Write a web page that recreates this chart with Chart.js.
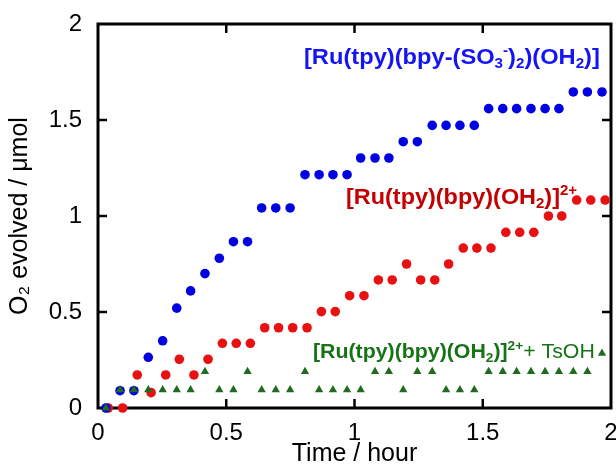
<!DOCTYPE html>
<html><head><meta charset="utf-8">
<script src="https://cdn.jsdelivr.net/npm/chart.js@4.4.1/dist/chart.umd.min.js"></script>
<style>html,body{margin:0;padding:0;background:#fff;}</style>
</head><body>
<canvas id="c" width="616" height="471"></canvas>
<script>
// ---- data (hours, µmol) ----
const timesBlue = [0.031,0.086,0.140,0.196,0.252,0.307,0.361,0.417,0.473,0.528,0.583,0.638,0.693,0.749,0.807,0.862,0.916,0.971,1.024,1.080,1.134,1.190,1.245,1.303,1.357,1.411,1.467,1.523,1.578,1.632,1.688,1.743,1.797,1.853,1.908,1.965];
const o2Blue = [0,0.09,0.09,0.264,0.35,0.52,0.61,0.70,0.78,0.866,0.866,1.042,1.042,1.042,1.215,1.215,1.215,1.215,1.302,1.302,1.302,1.387,1.387,1.472,1.472,1.472,1.472,1.559,1.559,1.559,1.559,1.559,1.559,1.646,1.646,1.646];

const timesRed = [0.040,0.096,0.153,0.207,0.264,0.317,0.374,0.429,0.485,0.539,0.594,0.650,0.704,0.759,0.815,0.871,0.925,0.981,1.037,1.093,1.147,1.203,1.258,1.313,1.367,1.424,1.477,1.532,1.590,1.644,1.699,1.756,1.808,1.866,1.921,1.977];
const o2Red = [0,0,0.172,0.08,0.172,0.254,0.172,0.254,0.337,0.337,0.337,0.418,0.418,0.418,0.418,0.502,0.502,0.585,0.585,0.667,0.667,0.75,0.667,0.667,0.75,0.833,0.833,0.833,0.915,0.915,0.915,1.0,1.0,1.083,1.083,1.083];

const timesGreen = [0.031,0.086,0.140,0.196,0.252,0.307,0.361,0.417,0.473,0.528,0.583,0.638,0.693,0.749,0.807,0.862,0.916,0.971,1.024,1.080,1.134,1.190,1.245,1.303,1.357,1.411,1.467,1.523,1.578,1.632,1.688,1.743,1.797,1.853,1.908,1.965];
const o2Green = [0,0.095,0.095,0.095,0.095,0.095,0.095,0.19,0.095,0.095,0.19,0.095,0.095,0.095,0.19,0.095,0.095,0.095,0.095,0.19,0.19,0.095,0.19,0.19,0.095,0.095,0.095,0.19,0.19,0.19,0.19,0.19,0.19,0.19,0.19,0.285];

const xTicks = [0,0.5,1,1.5,2];
const yTicks = [0,0.5,1,1.5,2];
const innerTicks = [0.5,1,1.5];
const xTitle = "Time / hour";
const yTitle = "O\u2082 evolved / \u03BCmol";

// label text segments: [text, kind(n/sub/sup), weight]
const labelBlue = [["[Ru(tpy)(bpy-(SO","n"],["3","sub"],["-","sup"],[")","n"],["2","sub"],[")(OH","n"],["2","sub"],[")]","n"]];
const labelRed = [["[Ru(tpy)(bpy)(OH","n"],["2","sub"],[")]","n"],["2+","sup"]];
const labelGreen = [["[Ru(tpy)(bpy)(OH","n"],["2","sub"],[")]","n"],["2+","sup"],["+ TsOH","n","normal"]];

const FONT = "'Liberation Sans', Arial, sans-serif";
const TICK_SIZE = 24;
const TITLE_SIZE = 25;

const annotations = [
  {segs: labelBlue, color: '#1414f5', x: 0.803, y: 1.792, size: 22, sx: 1.076},
  {segs: labelRed, color: '#c40000', x: 0.967, y: 1.0625, size: 22, sx: 1.065},
  {segs: labelGreen, color: '#167316', x: 0.838, y: 0.26, size: 20.5, sx: 1.04}
];

function pts(xs, ys){ return xs.map((x,i)=>({x:x, y:ys[i]})); }

const framePlugin = {
  id: 'frame',
  beforeDatasetsDraw(chart){
    const {ctx, chartArea:a, scales:{x, y}} = chart;
    ctx.save();
    ctx.strokeStyle = '#000';
    ctx.lineWidth = 3;
    ctx.strokeRect(a.left, a.top, a.right - a.left, a.bottom - a.top);
    const L = 9;
    ctx.lineWidth = 2.5;
    ctx.beginPath();
    innerTicks.forEach(v=>{
      const px = x.getPixelForValue(v);
      ctx.moveTo(px, a.bottom); ctx.lineTo(px, a.bottom - L);
      ctx.moveTo(px, a.top); ctx.lineTo(px, a.top + L);
      const py = y.getPixelForValue(v);
      ctx.moveTo(a.left, py); ctx.lineTo(a.left + L, py);
      ctx.moveTo(a.right, py); ctx.lineTo(a.right - L, py);
    });
    ctx.stroke();
    ctx.restore();
  }
};

const annotPlugin = {
  id: 'annot',
  afterDatasetsDraw(chart){
    const {ctx, scales:{x, y}} = chart;
    annotations.forEach(a=>{
      ctx.save();
      ctx.textAlign = 'left';
      ctx.textBaseline = 'alphabetic';
      ctx.translate(x.getPixelForValue(a.x), y.getPixelForValue(a.y));
      ctx.scale(a.sx, 1);
      ctx.fillStyle = a.color;
      let px = 0;
      a.segs.forEach(s=>{
        const kind = s[1], w = s[2] || 'bold';
        const size = kind === 'n' ? a.size : a.size * 0.64;
        const dy = kind === 'sub' ? a.size * 0.2 : (kind === 'sup' ? -a.size * 0.4 : 0);
        ctx.font = w + ' ' + size + 'px ' + FONT;
        ctx.fillText(s[0], px, dy);
        px += ctx.measureText(s[0]).width;
      });
      ctx.restore();
    });
  }
};

new Chart(document.getElementById('c'), {
  type: 'scatter',
  data: {
    datasets: [
      {label: 'green', data: pts(timesGreen, o2Green), pointStyle: 'triangle', pointRadius: 4.8, pointBackgroundColor: '#1f6b1f', pointBorderWidth: 0, order: 0, clip: false},
      {label: 'blue', data: pts(timesBlue, o2Blue), pointStyle: 'circle', pointRadius: 4.8, pointBackgroundColor: '#0000e0', pointBorderWidth: 0, order: 1, clip: false},
      {label: 'red', data: pts(timesRed, o2Red), pointStyle: 'circle', pointRadius: 4.8, pointBackgroundColor: '#e81010', pointBorderWidth: 0, order: 2, clip: false}
    ]
  },
  options: {
    responsive: false,
    animation: false,
    devicePixelRatio: 1,
    layout: {padding: {left: 0, right: 5, top: 24, bottom: 0}},
    plugins: {legend: {display: false}, tooltip: {enabled: false}},
    scales: {
      x: {
        type: 'linear', position: 'bottom', min: 0, max: 2,
        afterBuildTicks: s => { s.ticks = xTicks.map(v => ({value: v})); },
        ticks: {color: '#000', font: {family: FONT, size: TICK_SIZE}, padding: 3, maxRotation: 0, autoSkip: false, callback: v => String(v)},
        grid: {display: false}, border: {display: false},
        title: {display: true, text: xTitle, color: '#000', font: {family: FONT, size: TITLE_SIZE}, padding: {top: 0, bottom: 2}},
        afterFit: s => { s.height = 63; s.paddingLeft = 0; s.paddingRight = 0; }
      },
      y: {
        type: 'linear', position: 'left', min: 0, max: 2,
        afterBuildTicks: s => { s.ticks = yTicks.map(v => ({value: v})); },
        ticks: {color: '#000', font: {family: FONT, size: TICK_SIZE}, padding: 8, autoSkip: false, callback: v => String(v)},
        grid: {display: false}, border: {display: false},
        title: {display: true, text: yTitle, color: '#000', font: {family: FONT, size: TITLE_SIZE}, padding: {top: 5, bottom: 0}},
        afterFit: s => { s.width = 98; s.paddingTop = 0; s.paddingBottom = 0; }
      }
    }
  },
  plugins: [framePlugin, annotPlugin]
});
</script>
</body></html>
